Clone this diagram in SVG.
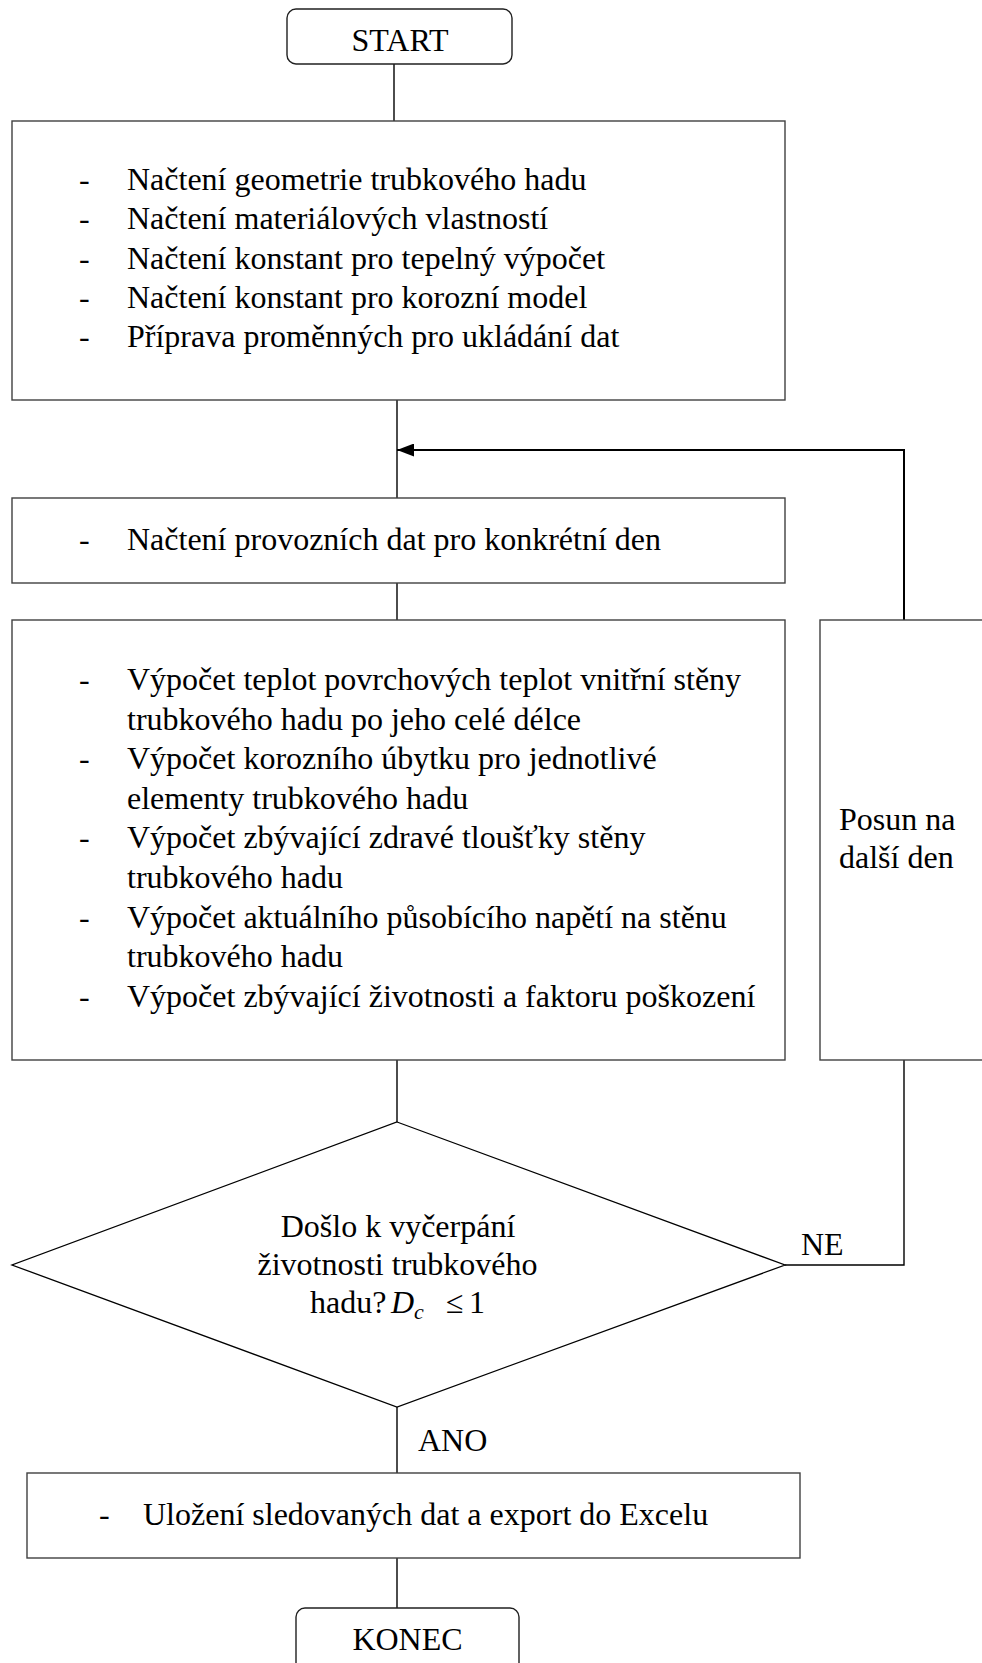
<svg xmlns="http://www.w3.org/2000/svg" width="982" height="1663" viewBox="0 0 982 1663">
<style>
  text { font-family: "Liberation Serif", "Times New Roman", serif; font-size: 32px; fill: #000; }
  .box { fill: #fff; stroke: #404040; stroke-width: 1.4; }
  .term { fill: #fff; stroke: #202020; stroke-width: 1.4; }
  .dia { fill: #fff; stroke: #000; stroke-width: 1.3; }
  .con { fill: none; stroke: #000; stroke-width: 1.4; }
  .fb { fill: none; stroke: #000; stroke-width: 2; }
  .mid { text-anchor: middle; }
  .it { font-style: italic; }
</style>
<defs>
  <marker id="arrow" viewBox="0 0 17 13" refX="17" refY="6.5" markerWidth="17" markerHeight="13" markerUnits="userSpaceOnUse" orient="auto">
    <path d="M0,0 L17,6.5 L0,13 Z" fill="#000"/>
  </marker>
</defs>
<rect width="982" height="1663" fill="#fff"/>

<g id="connectors">
  <line class="con" x1="394" y1="64" x2="394" y2="121"/>
  <line class="con" x1="397" y1="400" x2="397" y2="498"/>
  <line class="con" x1="397" y1="583" x2="397" y2="620"/>
  <line class="con" x1="397" y1="1060" x2="397" y2="1122"/>
  <line class="con" x1="397" y1="1407" x2="397" y2="1473"/>
  <line class="con" x1="397" y1="1558" x2="397" y2="1608"/>
  <polyline class="con" points="785,1265 904,1265 904,1060"/>
  <polyline class="fb" points="904,620 904,450 397,450" marker-end="url(#arrow)"/>
</g>

<g id="start">
  <rect class="term" x="287" y="9" width="225" height="55" rx="9" ry="9"/>
  <text class="mid" x="400" y="51">START</text>
</g>

<g id="init">
  <rect class="box" x="12" y="121" width="773" height="279"/>
  <text x="79" y="190">-</text><text x="127" y="190">Načtení geometrie trubkového hadu</text>
  <text x="79" y="229.3">-</text><text x="127" y="229.3">Načtení materiálových vlastností</text>
  <text x="79" y="268.6">-</text><text x="127" y="268.6">Načtení konstant pro tepelný výpočet</text>
  <text x="79" y="307.9">-</text><text x="127" y="307.9">Načtení konstant pro korozní model</text>
  <text x="79" y="347.2">-</text><text x="127" y="347.2">Příprava proměnných pro ukládání dat</text>
</g>

<g id="load-day">
  <rect class="box" x="12" y="498" width="773" height="85"/>
  <text x="79" y="550">-</text><text x="127" y="550">Načtení provozních dat pro konkrétní den</text>
</g>

<g id="compute">
  <rect class="box" x="12" y="620" width="773" height="440"/>
  <text x="79" y="690">-</text><text x="127" y="690">Výpočet teplot povrchových teplot vnitřní stěny</text>
  <text x="127" y="729.6">trubkového hadu po jeho celé délce</text>
  <text x="79" y="769.2">-</text><text x="127" y="769.2">Výpočet korozního úbytku pro jednotlivé</text>
  <text x="127" y="808.8">elementy trubkového hadu</text>
  <text x="79" y="848.4">-</text><text x="127" y="848.4">Výpočet zbývající zdravé tloušťky stěny</text>
  <text x="127" y="888">trubkového hadu</text>
  <text x="79" y="927.6">-</text><text x="127" y="927.6">Výpočet aktuálního působícího napětí na stěnu</text>
  <text x="127" y="967.2">trubkového hadu</text>
  <text x="79" y="1006.8">-</text><text x="127" y="1006.8">Výpočet zbývající životnosti a faktoru poškození</text>
</g>

<g id="next-day">
  <rect class="box" x="820" y="620" width="175" height="440"/>
  <text x="839" y="830">Posun na</text>
  <text x="839" y="868">další den</text>
</g>

<g id="decision">
  <polygon class="dia" points="397,1122 785,1265 397,1407 12,1265"/>
  <text class="mid" x="398" y="1237">Došlo k vyčerpání</text>
  <text class="mid" x="397.5" y="1275">životnosti trubkového</text>
  <text><tspan x="310" y="1313">hadu?</tspan><tspan class="it" x="391" y="1313">D</tspan><tspan class="it" x="414" y="1319" style="font-size:22px">c</tspan><tspan x="446" y="1313">≤</tspan><tspan x="469" y="1313">1</tspan></text>
  <text x="801" y="1255">NE</text>
  <text x="418" y="1451">ANO</text>
</g>

<g id="export">
  <rect class="box" x="27" y="1473" width="773" height="85"/>
  <text x="99" y="1525">-</text><text x="143" y="1525">Uložení sledovaných dat a export do Excelu</text>
</g>

<g id="end">
  <rect class="term" x="296" y="1608" width="223" height="70" rx="9" ry="9"/>
  <text class="mid" x="407.5" y="1650">KONEC</text>
</g>
</svg>
